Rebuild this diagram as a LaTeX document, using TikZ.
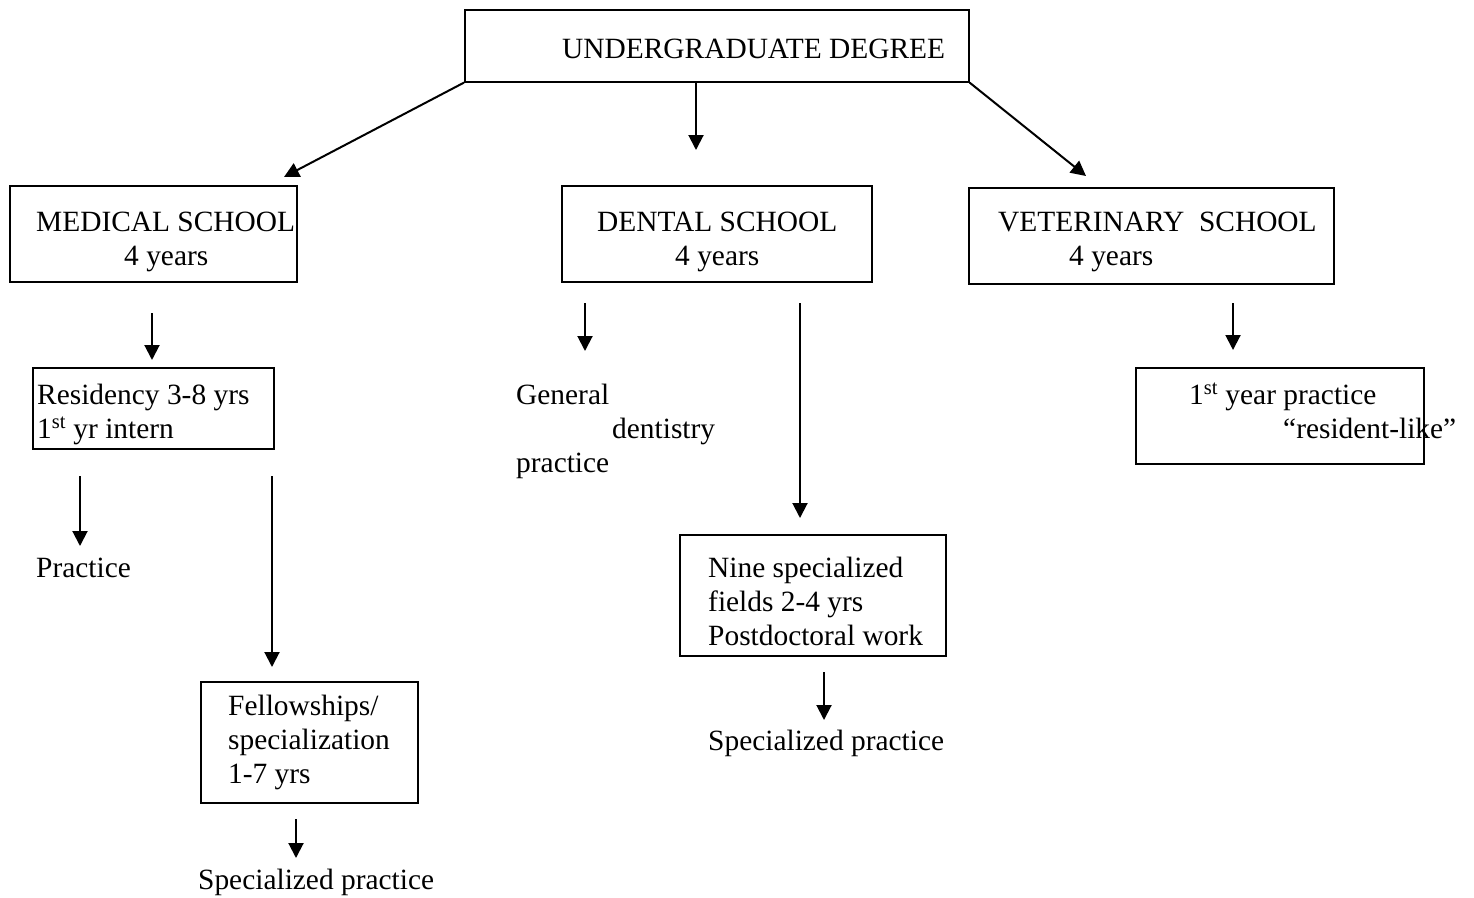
\documentclass[tikz,border=0pt]{standalone}
\usepackage{fontspec}
\setmainfont{Liberation Serif}
\usetikzlibrary{arrows.meta}
\begin{document}
\begin{tikzpicture}[x=1pt,y=-1pt,
  box/.style={draw, line width=1.6pt, inner sep=0pt, anchor=north west},
  txt/.style={anchor=base west, inner sep=0pt, font=\fontsize{29.4}{34}\selectfont},
  arr/.style={line width=2pt, -{Triangle[length=15pt,width=15pt]}}]
\useasboundingbox (0,0) rectangle (1474,897);
% boxes
\node[box, minimum width=504pt, minimum height=72pt] (ug) at (464,9) {};
\node[box, minimum width=287pt, minimum height=96pt] (med) at (9,185) {};
\node[box, minimum width=310pt, minimum height=96pt] (den) at (561,185) {};
\node[box, minimum width=365pt, minimum height=96pt] (vet) at (968,187) {};
\node[box, minimum width=241pt, minimum height=81pt] (res) at (32,367) {};
\node[box, minimum width=217pt, minimum height=121pt] (fel) at (200,681) {};
\node[box, minimum width=266pt, minimum height=121pt] (nine) at (679,534) {};
\node[box, minimum width=288pt, minimum height=96pt] (yr1) at (1135,367) {};
% texts
\node[txt] (t-ug) at (562,58) {UNDERGRADUATE DEGREE};
\node[txt] (t-med1) at (36,231) {MEDICAL SCHOOL};
\node[txt] (t-med2) at (124,265) {4 years};
\node[txt] (t-den1) at (597,231) {DENTAL SCHOOL};
\node[txt] (t-den2) at (675,265) {4 years};
\node[txt] (t-vet1) at (998,231) {VETERINARY\ \ SCHOOL};
\node[txt] (t-vet2) at (1069,265) {4 years};
\node[txt] (t-res1) at (37,404) {Residency 3-8 yrs};
\node[txt] (t-res2) at (37,438) {1\textsuperscript{st} yr intern};
\node[txt] (t-prac) at (36,577) {Practice};
\node[txt] (t-fel1) at (228,715) {Fellowships/};
\node[txt] (t-fel2) at (228,749) {specialization};
\node[txt] (t-fel3) at (228,783) {1-7 yrs};
\node[txt] (t-sp1) at (198,889) {Specialized practice};
\node[txt] (t-gen1) at (516,404) {General};
\node[txt] (t-gen2) at (612,438) {dentistry};
\node[txt] (t-gen3) at (516,472) {practice};
\node[txt] (t-nine1) at (708,577) {Nine specialized};
\node[txt] (t-nine2) at (708,611) {fields 2-4 yrs};
\node[txt] (t-nine3) at (708,645) {Postdoctoral work};
\node[txt] (t-sp2) at (708,750) {Specialized practice};
\node[txt] (t-yr1) at (1189,404) {1\textsuperscript{st} year practice};
\node[txt] (t-yr2) at (1283,438) {“resident-like”};
% connector coordinates
\coordinate (a1) at (284,177);
\coordinate (a2s) at (696,81);
\coordinate (a2) at (696,150);
\coordinate (a3) at (1086,176);
\coordinate (m1s) at (152,313);
\coordinate (m1) at (152,360);
\coordinate (m2s) at (80,476);
\coordinate (m2) at (80,546);
\coordinate (m3s) at (272,476);
\coordinate (m3) at (272,667);
\coordinate (m4s) at (296,819);
\coordinate (m4) at (296,858);
\coordinate (d1s) at (585,303);
\coordinate (d1) at (585,351);
\coordinate (d2s) at (800,303);
\coordinate (d2) at (800,518);
\coordinate (d3s) at (824,672);
\coordinate (d3) at (824,720);
\coordinate (v1s) at (1233,303);
\coordinate (v1) at (1233,350);
% connectors
\draw[arr] (ug.south west) -- (a1);
\draw[arr] (a2s) -- (a2);
\draw[arr] (ug.south east) -- (a3);
\draw[arr] (m1s) -- (m1);
\draw[arr] (m2s) -- (m2);
\draw[arr] (m3s) -- (m3);
\draw[arr] (m4s) -- (m4);
\draw[arr] (d1s) -- (d1);
\draw[arr] (d2s) -- (d2);
\draw[arr] (d3s) -- (d3);
\draw[arr] (v1s) -- (v1);
\end{tikzpicture}
\end{document}
